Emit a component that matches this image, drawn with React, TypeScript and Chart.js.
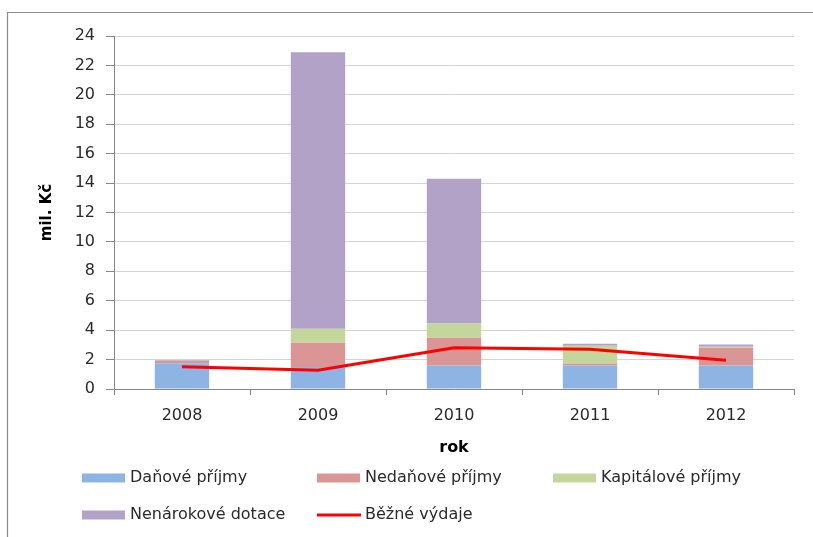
import React, { useEffect, useRef } from "react";
import { Chart, registerables } from "chart.js";

Chart.register(...registerables);

const years = ["2008", "2009", "2010", "2011", "2012"];
const danovePrijmy = [1.75, 1.5, 1.6, 1.6, 1.6];
const nedanovePrijmy = [0.15, 1.65, 1.88, 0.14, 1.2];
const kapitalovePrijmy = [0, 0.95, 0.97, 1.2, 0.07];
const nenarokoveDotace = [0.05, 18.8, 9.85, 0.13, 0.16];
const bezneVydaje = [1.51, 1.27, 2.8, 2.71, 1.95];

const FONT = "'DejaVu Sans', sans-serif";
const TEXT = "#2a2a2a";
const AXIS = "#868686";
const GRID = "#d4d4d4";

const legendCols = [82, 317, 553];
const legendRows = [478, 515];

const framePlugin = {
  id: "frame",
  beforeDraw(chart: any) {
    const { ctx, width, height } = chart;
    ctx.save();
    ctx.fillStyle = "#ffffff";
    ctx.fillRect(0, 0, width, height);
    ctx.strokeStyle = "#8c8c8c";
    ctx.lineWidth = 1.2;
    ctx.beginPath();
    ctx.moveTo(7.5, height);
    ctx.lineTo(7.5, 12.5);
    ctx.lineTo(width, 12.5);
    ctx.stroke();
    ctx.restore();
  },
};

const legendPlugin = {
  id: "customLegend",
  afterDraw(chart: any) {
    const { ctx } = chart;
    ctx.save();
    ctx.font = `16px ${FONT}`;
    ctx.textBaseline = "middle";
    ctx.textAlign = "left";
    chart.data.datasets.forEach((ds: any, i: number) => {
      const x = legendCols[i % 3];
      const y = legendRows[Math.floor(i / 3)];
      if (ds.type === "line") {
        ctx.strokeStyle = ds.borderColor;
        ctx.lineWidth = 3;
        ctx.beginPath();
        ctx.moveTo(x, y);
        ctx.lineTo(x + 44, y);
        ctx.stroke();
      } else {
        ctx.fillStyle = ds.backgroundColor;
        ctx.fillRect(x, y - 4.5, 43, 9);
      }
      ctx.fillStyle = TEXT;
      ctx.fillText(ds.label, x + 48, y);
    });
    ctx.restore();
  },
};

export default function App() {
  const ref = useRef<HTMLCanvasElement>(null);
  useEffect(() => {
    document.body.style.margin = "0";
    const chart = new Chart(ref.current as HTMLCanvasElement, {
      type: "bar",
      data: {
        labels: years,
        datasets: [
          { label: "Daňové příjmy", data: danovePrijmy, backgroundColor: "#8eb4e3", stack: "p" },
          { label: "Nedaňové příjmy", data: nedanovePrijmy, backgroundColor: "#d99694", stack: "p" },
          { label: "Kapitálové příjmy", data: kapitalovePrijmy, backgroundColor: "#c3d69b", stack: "p" },
          { label: "Nenárokové dotace", data: nenarokoveDotace, backgroundColor: "#b3a2c7", stack: "p" },
          {
            type: "line",
            label: "Běžné výdaje",
            data: bezneVydaje,
            borderColor: "#ff0000",
            backgroundColor: "#ff0000",
            borderWidth: 3,
            pointRadius: 0,
            tension: 0,
            stack: "line",
            order: -1,
          } as any,
        ],
      },
      options: {
        animation: false,
        responsive: false,
        maintainAspectRatio: false,
        barPercentage: 0.4,
        categoryPercentage: 1,
        layout: { padding: { top: 36, left: 0, right: 19, bottom: 76 } },
        plugins: { legend: { display: false }, tooltip: { enabled: false } },
        scales: {
          x: {
            stacked: true,
            afterFit: (s: any) => {
              s.height = 72;
            },
            grid: { drawOnChartArea: false, tickLength: 6, tickColor: AXIS, offset: true },
            border: { color: AXIS },
            ticks: { font: { family: FONT, size: 16 }, color: TEXT, padding: 11 },
            title: {
              display: true,
              text: "rok",
              font: { family: FONT, size: 16, weight: "bold" },
              color: "#000000",
              padding: { top: 0, bottom: 4 },
            },
          },
          y: {
            stacked: true,
            min: 0,
            max: 24,
            afterFit: (s: any) => {
              s.width = 114;
            },
            grid: { color: GRID, tickLength: 8, tickColor: AXIS },
            border: { color: AXIS },
            ticks: { stepSize: 2, font: { family: FONT, size: 16 }, color: TEXT, padding: 11 },
            title: {
              display: true,
              text: "mil. Kč",
              font: { family: FONT, size: 15, weight: "bold" },
              color: "#000000",
              padding: { top: 38, bottom: 0 },
            },
          },
        },
      },
      plugins: [framePlugin, legendPlugin],
    } as any);
    return () => chart.destroy();
  }, []);
  return <canvas ref={ref} width={813} height={537} style={{ display: "block" }} />;
}
